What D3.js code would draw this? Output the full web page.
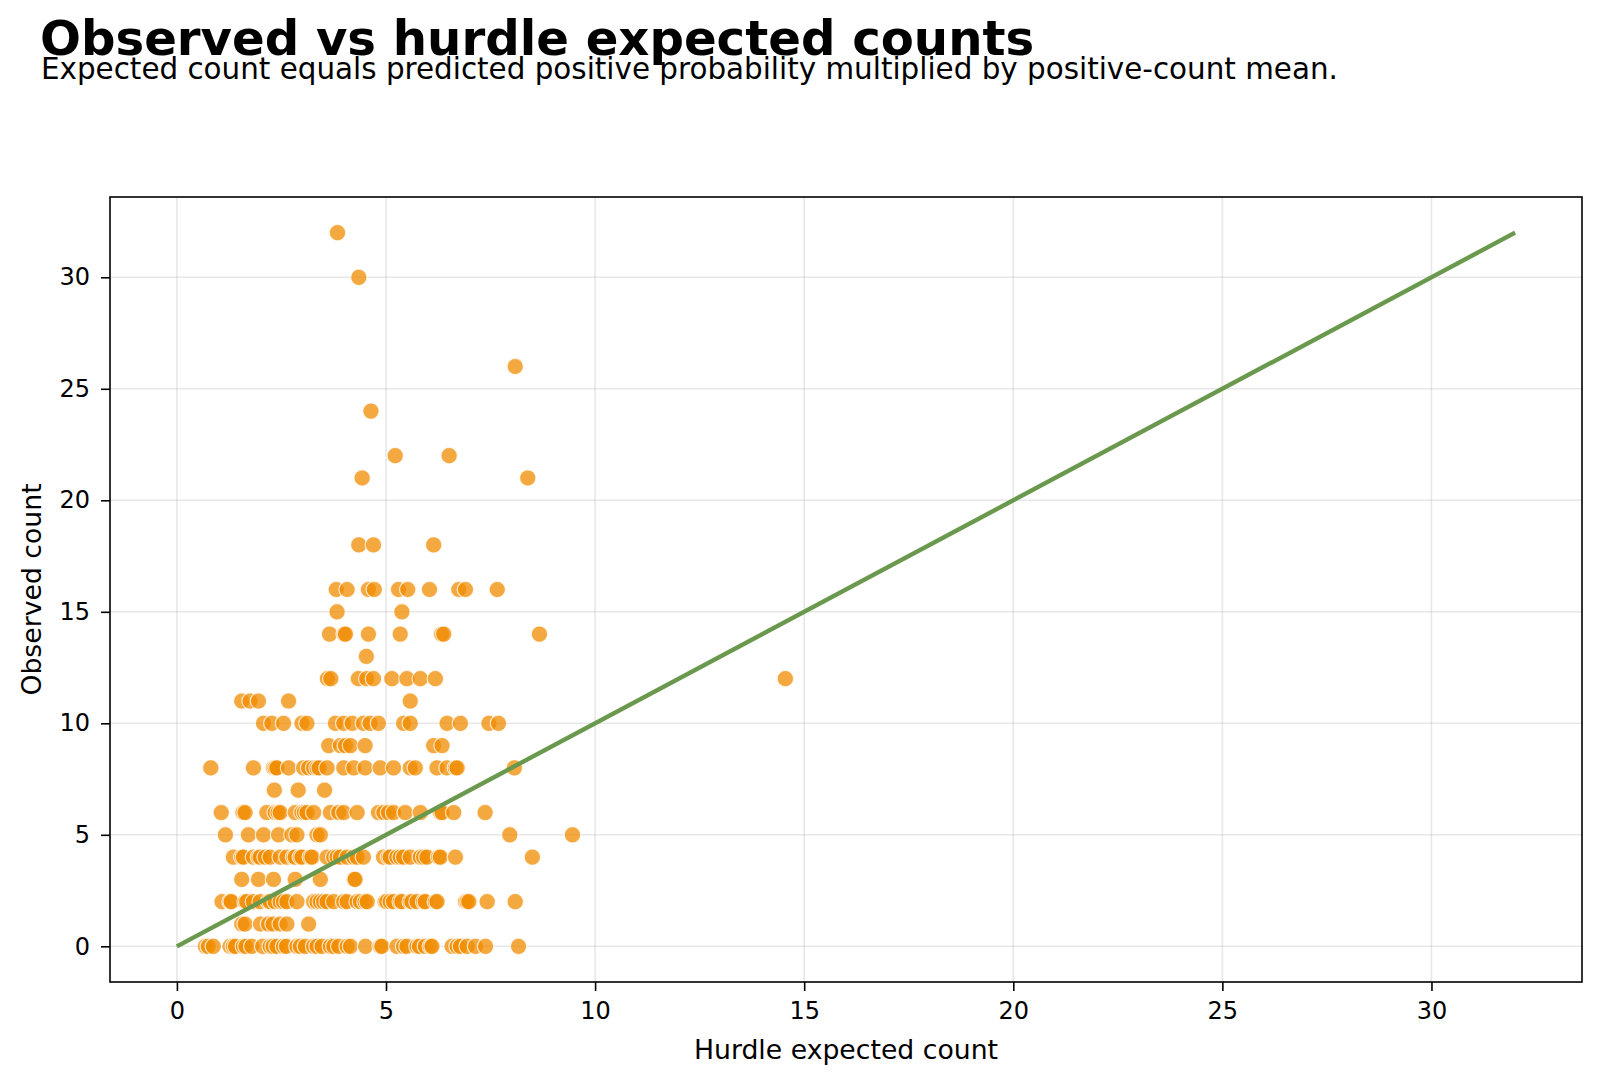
<!DOCTYPE html>
<html>
<head>
<meta charset="utf-8">
<script src="https://cdn.jsdelivr.net/npm/d3@7"></script>
<style>
  html, body { margin: 0; padding: 0; background: #fff; }
  svg { display: block; font-family: "DejaVu Sans", sans-serif; }
</style>
</head>
<body>
<svg id="chart" width="1600" height="1085"></svg>
<script>
// ---- Data ----
const titleText = "Observed vs hurdle expected counts";
const subtitleText = "Expected count equals predicted positive probability multiplied by positive-count mean.";
const xLabel = "Hurdle expected count";
const yLabel = "Observed count";
const xTicks = [0, 5, 10, 15, 20, 25, 30];
const yTicks = [0, 5, 10, 15, 20, 25, 30];
const refLine = [[0, 0], [32, 32]];

// expected values grouped by observed count
const row0 = [0.68, 0.75, 0.87, 1.27, 1.35, 1.40, 1.59, 1.65, 1.79, 2.05, 2.23, 2.30, 2.39, 2.55, 2.62, 2.87, 2.95, 3.07, 3.27, 3.35, 3.47, 3.67, 3.75, 3.87, 4.07, 4.15, 4.51, 4.86, 4.90, 5.26, 5.42, 5.50, 5.74, 5.80, 5.94, 6.06, 6.10, 6.58, 6.70, 6.78, 6.94, 7.14, 7.38, 8.17];
const row1 = [1.55, 1.63, 2.00, 2.19, 2.30, 2.47, 2.63, 3.15];
const row2 = [1.08, 1.27, 1.30, 1.63, 1.67, 1.83, 1.99, 2.19, 2.23, 2.35, 2.47, 2.55, 2.63, 2.87, 3.27, 3.35, 3.43, 3.51, 3.59, 3.75, 3.99, 4.07, 4.31, 4.39, 4.50, 4.55, 4.98, 5.02, 5.10, 5.18, 5.34, 5.38, 5.58, 5.62, 5.74, 5.90, 5.94, 6.18, 6.22, 6.90, 6.94, 6.98, 7.42, 8.09];
const row3 = [1.55, 1.95, 2.31, 2.83, 3.43, 4.24, 4.26];
const row4 = [1.35, 1.55, 1.59, 1.83, 1.95, 1.99, 2.11, 2.23, 2.47, 2.63, 2.79, 2.83, 2.95, 2.99, 3.19, 3.23, 3.59, 3.75, 3.83, 3.91, 4.07, 4.23, 4.31, 4.46, 4.94, 5.06, 5.10, 5.26, 5.34, 5.42, 5.58, 5.82, 5.90, 5.98, 6.26, 6.30, 6.66, 8.50];
const row5 = [1.16, 1.71, 2.07, 2.43, 2.75, 2.87, 3.35, 3.43, 7.96, 9.46];
const row6 = [1.06, 1.58, 1.63, 2.15, 2.35, 2.42, 2.47, 2.83, 2.99, 3.05, 3.11, 3.27, 3.67, 3.87, 3.99, 4.31, 4.82, 4.95, 5.06, 5.18, 5.46, 5.82, 6.30, 6.34, 6.62, 7.37];
const row7 = [2.33, 2.90, 3.53];
const row8 = [0.81, 1.83, 2.31, 2.35, 2.39, 2.67, 3.03, 3.15, 3.27, 3.35, 3.40, 3.59, 3.99, 4.23, 4.50, 4.86, 5.18, 5.58, 5.70, 6.22, 6.46, 6.66, 6.70, 8.07];
const row9 = [3.63, 3.91, 4.03, 4.15, 4.50, 6.14, 6.34];
const row10 = [2.07, 2.27, 2.55, 2.99, 3.11, 3.79, 3.99, 4.19, 4.46, 4.62, 4.82, 5.42, 5.58, 6.46, 6.78, 7.46, 7.69];
const row11 = [1.55, 1.75, 1.95, 2.67, 5.58];
const row12 = [3.60, 3.68, 4.34, 4.54, 4.70, 5.14, 5.50, 5.82, 6.18, 14.55];
const row13 = [4.53];
const row14 = [3.65, 4.00, 4.03, 4.58, 5.34, 6.33, 6.38, 8.67];
const row15 = [3.83, 5.38];
const row16 = [3.81, 4.07, 4.58, 4.72, 5.30, 5.52, 6.04, 6.74, 6.90, 7.66];
const row18 = [4.35, 4.70, 6.14];
const row21 = [4.43, 8.39];
const row22 = [5.22, 6.51];
const row24 = [4.64];
const row26 = [8.09];
const row30 = [4.35];
const row32 = [3.84];

const observedLevels = [0, 1, 2, 3, 4, 5, 6, 7, 8, 9, 10, 11, 12, 13, 14, 15, 16, 18, 21, 22, 24, 26, 30, 32];
const expectedByLevel = [row0, row1, row2, row3, row4, row5, row6, row7, row8, row9, row10, row11, row12, row13, row14, row15, row16, row18, row21, row22, row24, row26, row30, row32];

const points = [];
observedLevels.forEach((obs, i) => {
  expectedByLevel[i].forEach(e => points.push({ x: e, y: obs }));
});

// ---- Layout ----
const svg = d3.select("#chart");
const plot = { left: 110, right: 1582, top: 197, bottom: 982 };

const x = d3.scaleLinear().domain([-1.6, 33.6]).range([plot.left, plot.right]);
const y = d3.scaleLinear().domain([-1.6, 33.6]).range([plot.bottom, plot.top]);

// grid
const grid = svg.append("g");
grid.selectAll("line.gx").data(xTicks).enter().append("line")
  .attr("x1", d => x(d)).attr("x2", d => x(d))
  .attr("y1", plot.top).attr("y2", plot.bottom)
  .attr("stroke", "#b0b0b0").attr("stroke-opacity", 0.3).attr("stroke-width", 1.6);
grid.selectAll("line.gy").data(yTicks).enter().append("line")
  .attr("y1", d => y(d)).attr("y2", d => y(d))
  .attr("x1", plot.left).attr("x2", plot.right)
  .attr("stroke", "#b0b0b0").attr("stroke-opacity", 0.3).attr("stroke-width", 1.6);

// points
svg.append("g").selectAll("circle").data(points).enter().append("circle")
  .attr("cx", d => x(d.x)).attr("cy", d => y(d.y)).attr("r", 8.2)
  .attr("fill", "rgb(240,140,0)").attr("fill-opacity", 0.75)
  .attr("stroke", "#ffffff").attr("stroke-opacity", 0.75).attr("stroke-width", 1.2);

// reference line
svg.append("path").datum(refLine)
  .attr("d", d3.line().x(d => x(d[0])).y(d => y(d[1])))
  .attr("fill", "none").attr("stroke", "#6a994e").attr("stroke-width", 4.4);

// frame
svg.append("rect")
  .attr("x", plot.left).attr("y", plot.top)
  .attr("width", plot.right - plot.left).attr("height", plot.bottom - plot.top)
  .attr("fill", "none").attr("stroke", "#000").attr("stroke-width", 1.6);

// axes
const xAxis = svg.append("g").attr("transform", `translate(0,${plot.bottom})`)
  .call(d3.axisBottom(x).tickValues(xTicks).tickSize(9).tickPadding(11).tickFormat(d3.format("d")));
const yAxis = svg.append("g").attr("transform", `translate(${plot.left},0)`)
  .call(d3.axisLeft(y).tickValues(yTicks).tickSize(9).tickPadding(11).tickFormat(d3.format("d")));
[xAxis, yAxis].forEach(a => {
  a.select(".domain").remove();
  a.selectAll(".tick line").attr("stroke", "#000").attr("stroke-width", 1.6);
  a.selectAll(".tick text").attr("fill", "#000").style("font-size", "24px").style("font-family", "DejaVu Sans");
});

// axis labels
svg.append("text").attr("x", (plot.left + plot.right) / 2).attr("y", 1059)
  .attr("text-anchor", "middle").style("font-size", "26.7px").attr("fill", "#000").text(xLabel);
svg.append("text").attr("transform", `translate(41,${(plot.top + plot.bottom) / 2}) rotate(-90)`)
  .attr("text-anchor", "middle").style("font-size", "26.7px").attr("fill", "#000").text(yLabel);

// title & subtitle
svg.append("text").attr("x", 40).attr("y", 55)
  .style("font-size", "48.2px").style("font-weight", "bold").attr("fill", "#000").text(titleText);
svg.append("text").attr("x", 41).attr("y", 79)
  .style("font-size", "29.4px").attr("fill", "#000").text(subtitleText);
</script>
</body>
</html>
